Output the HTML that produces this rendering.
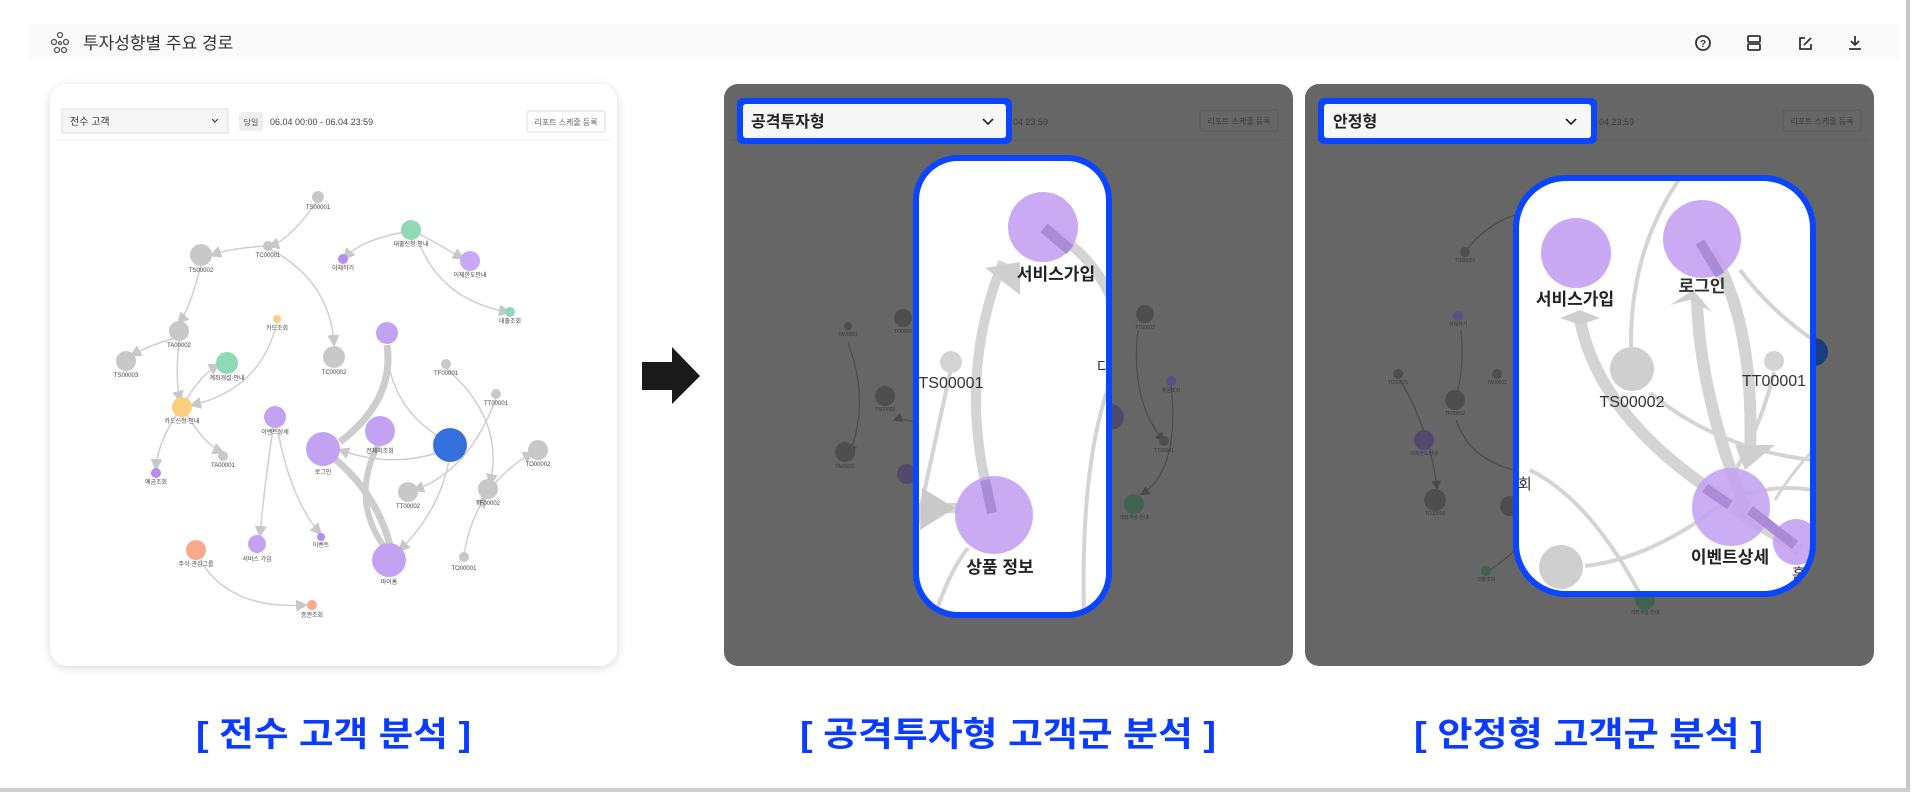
<!DOCTYPE html>
<html><head><meta charset="utf-8"><style>
html,body{margin:0;padding:0;background:#fff;width:1920px;height:802px;overflow:hidden}
svg{display:block}
text{font-family:"Liberation Sans","Noto Sans CJK KR",sans-serif}
</style></head><body>
<svg width="1920" height="802" viewBox="0 0 1920 802" xmlns="http://www.w3.org/2000/svg">
<defs>
<filter id="sh" x="-10%" y="-10%" width="120%" height="120%"><feDropShadow dx="0" dy="2" stdDeviation="5" flood-color="#000" flood-opacity="0.15"/></filter>
<marker id="ah" markerWidth="8" markerHeight="8" refX="6" refY="4" orient="auto"><path d="M0,0 L8,4 L0,8 z" fill="#c8c8c8"/></marker>
<marker id="ahd" markerWidth="8" markerHeight="8" refX="6" refY="4" orient="auto"><path d="M0,0 L8,4 L0,8 z" fill="#4a4a4a"/></marker>
<clipPath id="c1"><rect x="919" y="161" width="187" height="451" rx="40"/></clipPath>
<clipPath id="c2"><rect x="1517" y="179" width="294" height="413" rx="48"/></clipPath>
</defs>
<!-- frame -->
<rect x="0" y="0" width="1907" height="789" fill="#fff"/>
<rect x="1906" y="0" width="4" height="792" fill="#c8c8c8"/>
<rect x="0" y="788" width="1910" height="4" fill="#cfcfcf"/>
<!-- header -->
<rect x="28" y="24" width="1872" height="36" fill="#fafafa"/>
<g stroke="#555" stroke-width="1.3" fill="none">
<circle cx="60" cy="35" r="2.5"/><circle cx="54" cy="42" r="2.5"/><circle cx="66" cy="42" r="2.5"/><circle cx="57" cy="50" r="2.5"/><circle cx="64" cy="50" r="2.5"/><circle cx="60" cy="43" r="1.5"/>
</g>
<text x="83" y="49" font-size="17" fill="#333">투자성향별 주요 경로</text>
<g stroke="#333" stroke-width="1.8" fill="none">
<circle cx="1703" cy="43" r="7"/>
<rect x="1748" y="36" width="12" height="6" rx="1"/><rect x="1748" y="44" width="12" height="6" rx="1"/>
<path d="M1805 38 h-5 v11 h11 v-5"/><path d="M1804 45 l7 -7"/>
<path d="M1855 36 v8 M1851 41 l4 4 l4 -4 M1849 49 h12"/>
</g>
<text x="1703" y="47" font-size="10" fill="#333" text-anchor="middle" font-weight="bold">?</text>

<!-- left panel -->
<rect x="50" y="84" width="567" height="582" rx="18" fill="#fff" filter="url(#sh)"/>
<rect x="62" y="109" width="166" height="24" fill="#f6f6f6" stroke="#ddd"/>
<text x="70" y="125" font-size="10" fill="#333">전수 고객</text>
<path d="M212 119 l3 3 l3 -3" stroke="#333" fill="none"/>
<rect x="239" y="112" width="24" height="19" rx="3" fill="#eee"/>
<text x="251" y="125" font-size="8" fill="#555" text-anchor="middle">당일</text>
<text x="270" y="125" font-size="9" fill="#444">06.04 00:00 - 06.04 23:59</text>
<rect x="527" y="111" width="78" height="21" rx="2" fill="#fff" stroke="#ddd"/>
<text x="566" y="125" font-size="8" fill="#666" text-anchor="middle">리포트 스케줄 등록</text>
<line x1="56" y1="140" x2="610" y2="140" stroke="#eee"/>
<g stroke="#cfcfcf" stroke-width="1.5" fill="none" marker-end="url(#ah)">
<path d="M318 200 Q290 240 270 246"/>
<path d="M268 246 Q230 248 212 255"/>
<path d="M268 248 Q330 280 334 344"/>
<path d="M201 264 Q190 310 179 322"/>
<path d="M175 338 Q150 345 132 355"/>
<path d="M405 232 Q360 240 345 258"/>
<path d="M416 232 Q440 245 462 258"/>
<path d="M418 240 Q440 300 508 312"/>
<path d="M277 323 Q260 390 192 405"/>
<path d="M179 340 Q175 380 180 400"/>
<path d="M182 407 Q200 375 218 365"/>
<path d="M185 412 Q205 445 222 452"/>
<path d="M180 410 Q158 440 156 468"/>
<path d="M274 422 Q265 480 260 535"/>
<path d="M276 422 Q290 500 320 533"/>
<path d="M446 368 Q505 420 490 483"/>
<path d="M496 398 Q470 470 415 490"/>
<path d="M490 489 Q510 465 532 453"/>
<path d="M464 554 Q470 520 485 498"/>
<path d="M449 460 Q440 510 400 550"/>
<path d="M448 449 Q395 470 340 450"/>
<path d="M386 345 Q390 410 445 440"/>
<path d="M200 560 Q230 610 305 605"/>
</g>
<g stroke="#cdcdcd" fill="none">
<path d="M387 345 Q395 400 340 442" stroke-width="7"/>
<path d="M330 455 Q375 490 390 545" stroke-width="7"/>
<path d="M385 548 Q350 500 378 445" stroke-width="6"/>
</g>
<g>
<circle cx="318" cy="197" r="6" fill="#c8c8c8"/>
<circle cx="268" cy="246" r="5" fill="#c8c8c8"/>
<circle cx="201" cy="255" r="11" fill="#c8c8c8"/>
<circle cx="411" cy="230" r="10" fill="#8fd9b6"/>
<circle cx="343" cy="259" r="5" fill="#b58cf0"/>
<circle cx="470" cy="261" r="10" fill="#c9a8f5"/>
<circle cx="510" cy="312" r="5" fill="#8fd9b6"/>
<circle cx="277" cy="319" r="4" fill="#f9cf7e"/>
<circle cx="179" cy="331" r="10" fill="#c8c8c8"/>
<circle cx="126" cy="361" r="10" fill="#c8c8c8"/>
<circle cx="227" cy="363" r="11" fill="#8fd9b6"/>
<circle cx="334" cy="357" r="11" fill="#c8c8c8"/>
<circle cx="387" cy="333" r="11" fill="#c4a2f2"/>
<circle cx="182" cy="407" r="10" fill="#f9cf7e"/>
<circle cx="275" cy="417" r="11" fill="#c4a2f2"/>
<circle cx="223" cy="456" r="5" fill="#c8c8c8"/>
<circle cx="156" cy="473" r="5" fill="#b58cf0"/>
<circle cx="323" cy="449" r="17" fill="#c4a2f2"/>
<circle cx="380" cy="431" r="15" fill="#c4a2f2"/>
<circle cx="450" cy="445" r="17" fill="#3570dd"/>
<circle cx="446" cy="364" r="5" fill="#c8c8c8"/>
<circle cx="496" cy="394" r="5" fill="#c8c8c8"/>
<circle cx="408" cy="492" r="10" fill="#c8c8c8"/>
<circle cx="538" cy="450" r="10" fill="#c8c8c8"/>
<circle cx="488" cy="489" r="10" fill="#c8c8c8"/>
<circle cx="257" cy="544" r="9" fill="#c4a2f2"/>
<circle cx="321" cy="537" r="4" fill="#b58cf0"/>
<circle cx="196" cy="550" r="10" fill="#f8a98a"/>
<circle cx="389" cy="560" r="17" fill="#c4a2f2"/>
<circle cx="464" cy="557" r="5" fill="#c8c8c8"/>
<circle cx="312" cy="605" r="5" fill="#f8a98a"/>
</g>
<g font-size="6" fill="#444" text-anchor="middle">
<text x="318" y="209">TS00001</text><text x="268" y="257">TC00001</text><text x="201" y="272">TS00002</text>
<text x="411" y="246">대출신청·안내</text><text x="343" y="270">이체하기</text><text x="470" y="277">이체한도안내</text>
<text x="510" y="323">대출조회</text><text x="277" y="330">카드조회</text><text x="179" y="347">TA00002</text>
<text x="126" y="377">TS00003</text><text x="227" y="380">계좌개설·안내</text><text x="334" y="374">TC00002</text>
<text x="182" y="423">카드신청·안내</text><text x="275" y="434">이벤트상세</text><text x="223" y="467">TA00001</text>
<text x="156" y="484">예금조회</text><text x="323" y="474">로그인</text><text x="380" y="453">전체자조회</text>
<text x="446" y="375">TF00001</text><text x="496" y="405">TT00001</text><text x="408" y="508">TT00002</text>
<text x="538" y="466">TO00002</text><text x="488" y="505">TF00002</text><text x="257" y="561">서비스 가입</text>
<text x="321" y="547">이벤트</text><text x="196" y="566">주식·관심그룹</text><text x="389" y="584">마이홈</text>
<text x="464" y="570">TO00001</text><text x="312" y="617">증권조회</text>
</g>

<!-- arrow -->
<path d="M642 362 H672 V347 L700 376 L672 404 V390 H642 Z" fill="#1a1a1a"/>

<!-- middle panel -->
<rect x="724" y="84" width="569" height="582" rx="14" fill="#666"/>
<text x="1013" y="125" font-size="9" fill="#3d3d3d">04 23:59</text>
<rect x="1200" y="110" width="78" height="21" rx="2" fill="none" stroke="#5a5a5a"/>
<text x="1239" y="124" font-size="8" fill="#3d3d3d" text-anchor="middle">리포트 스케줄 등록</text>
<line x1="730" y1="140" x2="1287" y2="140" stroke="#5f5f5f"/>
<g stroke="#4c4c4c" stroke-width="1.2" fill="none" marker-end="url(#ahd)">
<path d="M848 343 Q870 400 850 452"/><path d="M915 422 Q900 418 895 420"/>
<path d="M1138 330 Q1130 400 1163 440"/><path d="M1171 385 Q1180 470 1142 494"/>
</g>
<g fill="#4e4e4e">
<circle cx="848" cy="326" r="4"/><circle cx="903" cy="318" r="9"/><circle cx="885" cy="396" r="10"/><circle cx="845" cy="452" r="10"/>
<circle cx="1145" cy="314" r="9"/><circle cx="1164" cy="441" r="5"/>
</g>
<circle cx="907" cy="474" r="10" fill="#524a6c"/><circle cx="1171" cy="381" r="5" fill="#5a4f86"/>
<circle cx="1134" cy="504" r="10" fill="#3f6350"/><circle cx="1111" cy="417" r="13" fill="#524a6c"/>
<g font-size="5" fill="#3a3a3a" text-anchor="middle">
<text x="848" y="336">TA00001</text><text x="903" y="333">TO0000</text><text x="885" y="411">TS00002</text><text x="845" y="468">TA00002</text>
<text x="1145" y="329">TT00002</text><text x="1164" y="452">TT00001</text><text x="1171" y="392">예금조회</text><text x="1134" y="519">계좌개설·안내</text>
</g>
<!-- mid white box -->
<rect x="916" y="158" width="193" height="457" rx="42" fill="#fff"/>
<g clip-path="url(#c1)">
<g stroke="#d4d4d4" fill="none">
<path d="M992 508 Q955 380 1003 262" stroke-width="10"/>
<path d="M1044 228 Q1090 250 1112 300" stroke-width="10"/>
<path d="M1084 615 Q1080 460 1112 377" stroke-width="4"/>
<path d="M935 615 Q950 570 968 548" stroke-width="4"/>
<path d="M916 508 H960" stroke-width="10"/>
<path d="M916 530 L951 368" stroke-width="4"/>
</g>
<path d="M985 268 L1020 262 L1020 295 Z" fill="#cfcfcf"/>
<path d="M922 488 L955 508 L920 530 Z" fill="#c9c9c9"/>
<circle cx="1043" cy="227" r="35" fill="#c4a2f2" fill-opacity="0.9"/>
<circle cx="994" cy="515" r="39" fill="#c4a2f2" fill-opacity="0.9"/>
<path d="M1044 228 L1070 250" stroke="#a98bd6" stroke-width="11"/>
<path d="M992 513 L985 480" stroke="#a98bd6" stroke-width="10"/>
<circle cx="951" cy="362" r="11" fill="#d4d4d4"/>
<text x="1056" y="280" font-size="17" font-weight="bold" fill="#222" text-anchor="middle">서비스가입</text>
<text x="1000" y="573" font-size="17" font-weight="bold" fill="#222" text-anchor="middle">상품 정보</text>
<text x="951" y="388" font-size="16" fill="#333" text-anchor="middle">TS00001</text>
<text x="1097" y="372" font-size="15" fill="#333">다</text>
</g>
<rect x="916" y="158" width="193" height="457" rx="42" fill="none" stroke="#0a45ff" stroke-width="6"/>
<!-- mid dropdown -->
<rect x="737" y="98" width="275" height="46" rx="6" fill="#0a45ff"/>
<rect x="743" y="104" width="263" height="34" rx="3" fill="#f7f7f7"/>
<text x="751" y="127" font-size="16" font-weight="bold" fill="#222">공격투자형</text>
<path d="M983 119 l5 5 l5 -5" stroke="#222" stroke-width="1.6" fill="none"/>

<!-- right panel -->
<rect x="1305" y="84" width="569" height="582" rx="14" fill="#666"/>
<text x="1599" y="125" font-size="9" fill="#3d3d3d">04 23:59</text>
<rect x="1783" y="110" width="78" height="21" rx="2" fill="none" stroke="#5a5a5a"/>
<text x="1822" y="124" font-size="8" fill="#3d3d3d" text-anchor="middle">리포트 스케줄 등록</text>
<line x1="1311" y1="140" x2="1868" y2="140" stroke="#5f5f5f"/>
<g stroke="#4c4c4c" stroke-width="1.2" fill="none">
<path d="M1465 252 Q1485 225 1515 215"/><path d="M1461 330 Q1465 370 1455 400"/>
<path d="M1400 380 Q1430 430 1437 488" marker-end="url(#ahd)"/><path d="M1456 420 Q1470 460 1515 470"/>
<path d="M1490 570 Q1505 560 1515 550"/>
</g>
<g fill="#4e4e4e">
<circle cx="1465" cy="252" r="5"/><circle cx="1398" cy="374" r="5"/><circle cx="1497" cy="374" r="5"/>
<circle cx="1455" cy="400" r="10"/><circle cx="1435" cy="500" r="11"/><circle cx="1510" cy="506" r="10"/>
</g>
<circle cx="1458" cy="316" r="5" fill="#5a4f86"/><circle cx="1424" cy="440" r="10" fill="#524a6c"/>
<circle cx="1486" cy="571" r="5" fill="#3f6350"/><circle cx="1645" cy="600" r="10" fill="#3f6350"/>
<circle cx="1814" cy="352" r="14" fill="#1a3d80"/>
<g font-size="5" fill="#3a3a3a" text-anchor="middle">
<text x="1465" y="262">TO00001</text><text x="1458" y="326">이체하기</text><text x="1398" y="384">TC00001</text><text x="1497" y="384">TA00001</text>
<text x="1455" y="415">TF00002</text><text x="1424" y="455">이체한도안내</text><text x="1435" y="515">TC00002</text><text x="1486" y="581">대출조회</text><text x="1645" y="614">계좌개설·안내</text>
</g>
<!-- right white box -->
<rect x="1516" y="178" width="297" height="416" rx="50" fill="#fff"/>
<g clip-path="url(#c2)">
<g stroke="#d4d4d4" fill="none">
<path d="M1726 500 Q1600 420 1580 320" stroke-width="12"/>
<path d="M1750 520 Q1700 400 1697 300" stroke-width="12"/>
<path d="M1710 250 Q1755 320 1750 455" stroke-width="12"/>
<path d="M1631 347 Q1630 250 1680 178" stroke-width="4"/>
<path d="M1774 372 Q1760 430 1730 480" stroke-width="4"/>
<path d="M1813 460 Q1720 450 1650 393" stroke-width="4"/>
<path d="M1813 340 Q1770 310 1740 270" stroke-width="4"/>
<path d="M1813 490 Q1750 480 1700 520 Q1640 560 1585 566" stroke-width="4"/>
<path d="M1530 470 Q1590 500 1640 594" stroke-width="4"/>
<path d="M1813 450 Q1790 475 1775 500" stroke-width="3"/>
<path d="M1731 507 L1800 550" stroke-width="12"/>
</g>
<path d="M1560 318 L1580 310 L1600 318 L1580 325 Z" fill="#cfcfcf"/>
<path d="M1670 305 L1693 290 L1712 312 L1690 300 Z" fill="#cfcfcf"/>
<path d="M1735 445 L1775 445 L1745 470 Z" fill="#cfcfcf"/>
<circle cx="1576" cy="253" r="35" fill="#c4a2f2" fill-opacity="0.92"/>
<circle cx="1702" cy="239" r="39" fill="#c4a2f2" fill-opacity="0.9"/>
<circle cx="1632" cy="369" r="22" fill="#cfcfcf"/>
<circle cx="1774" cy="361" r="10" fill="#d4d4d4"/>
<circle cx="1731" cy="507" r="39" fill="#c4a2f2" fill-opacity="0.88"/>
<circle cx="1796" cy="542" r="23" fill="#c4a2f2" fill-opacity="0.9"/>
<circle cx="1561" cy="567" r="22" fill="#cfcfcf"/>
<path d="M1700 242 L1720 275" stroke="#a98bd6" stroke-width="10"/>
<path d="M1705 488 L1730 505" stroke="#a98bd6" stroke-width="10"/>
<path d="M1750 510 L1795 545" stroke="#a98bd6" stroke-width="10"/>
<text x="1575" y="305" font-size="17" font-weight="bold" fill="#222" text-anchor="middle">서비스가입</text>
<text x="1702" y="292" font-size="17" font-weight="bold" fill="#333" text-anchor="middle">로그인</text>
<text x="1632" y="407" font-size="16" fill="#333" text-anchor="middle">TS00002</text>
<text x="1774" y="386" font-size="16" fill="#333" text-anchor="middle">TT00001</text>
<text x="1730" y="563" font-size="17" font-weight="bold" fill="#222" text-anchor="middle">이벤트상세</text>
<text x="1792" y="579" font-size="15" fill="#333">홈</text>
<text x="1518" y="489" font-size="15" fill="#333">회</text>
</g>
<rect x="1516" y="178" width="297" height="416" rx="50" fill="none" stroke="#0a45ff" stroke-width="6"/>
<!-- right dropdown -->
<rect x="1318" y="98" width="279" height="46" rx="6" fill="#0a45ff"/>
<rect x="1324" y="104" width="267" height="34" rx="3" fill="#f7f7f7"/>
<text x="1333" y="127" font-size="16" font-weight="bold" fill="#222">안정형</text>
<path d="M1566 119 l5 5 l5 -5" stroke="#222" stroke-width="1.6" fill="none"/>

<!-- captions -->
<g font-size="34" font-weight="bold" fill="#0a3cff">
<text x="196" y="746" textLength="275" lengthAdjust="spacingAndGlyphs">[ 전수 고객 분석 ]</text>
<text x="800" y="746" textLength="416" lengthAdjust="spacingAndGlyphs">[ 공격투자형 고객군 분석 ]</text>
<text x="1414" y="746" textLength="349" lengthAdjust="spacingAndGlyphs">[ 안정형 고객군 분석 ]</text>
</g>
</svg>
</body></html>
